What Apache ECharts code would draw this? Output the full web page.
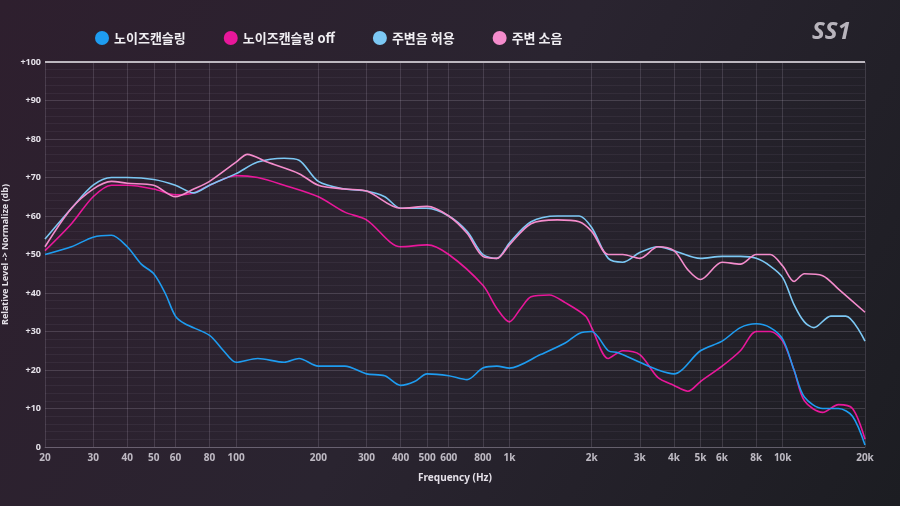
<!DOCTYPE html>
<html><head><meta charset="utf-8">
<script src="https://cdn.jsdelivr.net/npm/echarts@6/dist/echarts.min.js"></script>
<style>html,body{margin:0;padding:0;background:#1e1d24}#c{width:900px;height:506px}</style>
</head><body><div id="c"></div>
<script>
const names = ['노이즈캔슬링','노이즈캔슬링 off','주변음 허용','주변 소음'];
const colors = ['#1e9cf0','#e8179a','#7cc8f4','#f48ccc'];
const nc = [[20,50],[25,52],[30,54.5],[35,55],[40,52],[45,47.5],[50,45],[55,40],[60,34],[65,32],[80,29],[90,25],[100,22],[120,23],[150,22],[170,23],[200,21],[250,21],[300,19],[350,18.5],[400,16],[450,17],[500,19],[600,18.5],[700,17.5],[800,20.5],[900,21],[1000,20.5],[1300,24],[1600,27],[1800,29.5],[2000,30],[2300,25],[2500,24.5],[3000,22],[3500,20],[4000,19],[5000,25],[6000,27.5],[7000,31],[8000,32],[9000,31],[10000,28],[11000,20],[12000,13],[14000,10],[16000,10],[18000,8],[20000,0.5]];
const ncOff = [[20,51],[25,58],[30,65],[35,68],[40,68],[50,67],[60,65.5],[70,66],[80,68],[100,70.5],[120,70],[150,68],[200,65],[250,61],[300,59],[400,52],[500,52.5],[600,50],[800,42],[900,36],[1000,32.5],[1100,36],[1200,39],[1400,39.5],[1600,37.5],[1900,34],[2000,31],[2300,23],[2600,25],[3000,24],[3500,18],[4000,16],[4500,14.5],[5000,17],[6000,21],[7000,25],[8000,30],[9000,30],[10000,27.5],[11000,20],[12000,12],[14000,9],[16000,11],[18000,10],[20000,2]];
const ambient = [[20,54],[25,62],[30,68],[35,70],[40,70],[50,69.5],[60,68],[70,66],[80,68],[100,71],[120,74],[150,75],[170,74.5],[200,69],[250,67],[300,66.5],[350,65],[400,62],[500,62],[600,60],[700,56],[800,50],[900,49],[1000,53],[1200,58.5],[1500,60],[1800,60],[2000,57],[2300,49],[2600,48],[3000,50.5],[3500,52],[4000,51],[5000,49],[6000,49.5],[7000,49.5],[8000,49],[9000,47],[10000,44],[11000,37],[12000,32.5],[13000,31],[15000,34],[17000,34],[20000,27.5]];
const noise = [[20,52],[25,62],[30,67],[35,69],[40,68.5],[50,68],[60,65],[70,67],[80,69],[100,74],[110,76],[130,74],[170,71],[200,68],[250,67],[300,66.5],[400,62],[500,62.5],[600,60],[700,55.5],[800,49.5],[900,49],[1000,52.5],[1200,58],[1500,59],[1800,58.5],[2000,56],[2300,50],[2600,50],[3000,49],[3500,52],[4000,51],[4500,46],[5000,43.5],[6000,48],[7000,47.5],[8000,50],[9000,50],[10000,47],[11000,43],[12000,45],[14000,44.5],[16000,41],[20000,35]];
const xTicks = [20,30,40,50,60,80,100,200,300,400,500,600,800,1000,2000,3000,4000,5000,6000,8000,10000,20000];
const xTickLabels = ['20','30','40','50','60','80','100','200','300','400','500','600','800','1k','2k','3k','4k','5k','6k','8k','10k','20k'];
const all=[nc,ncOff,ambient,noise];
const chart = echarts.init(document.getElementById('c'));
const series = all.map((d,i)=>({name:names[i],type:'line',data:d,smooth:0.3,showSymbol:false,symbol:'circle',
  lineStyle:{width:1.6,color:colors[i]},itemStyle:{color:colors[i]},z:i===0?5:3}));
series.push({type:'scatter',data:xTicks.map(v=>[v,0]),symbolSize:0,silent:true,
  label:{show:true,position:'bottom',distance:6,color:'#e4e0e8',fontSize:10,fontFamily:'Noto Sans',fontWeight:'bold',
   formatter:p=>xTickLabels[p.dataIndex]},
  markLine:{silent:true,symbol:'none',label:{show:false},lineStyle:{color:'rgba(200,190,210,0.18)',width:1,type:'solid'},
   data:xTicks.map(v=>({xAxis:v})).concat([{yAxis:100,lineStyle:{color:'#bdb8c0',width:2,type:'solid'}}])}});
chart.setOption({
  backgroundColor:new echarts.graphic.LinearGradient(0,0,1,1,[{offset:0,color:'#2e1f2e'},{offset:0.5,color:'#2a2430'},{offset:1,color:'#1c1d22'}]),
  legend:{data:names.map((n,i)=>({name:n,itemStyle:{color:colors[i]}})),left:90,top:26,icon:'circle',itemWidth:14,itemHeight:14,itemGap:38,
    textStyle:{color:'#f0eef2',fontSize:13,fontWeight:'bold',fontFamily:'Noto Sans CJK KR'}},
  graphic:[{type:'text',left:812,top:20,style:{text:'SS1',fill:'#b8b4bc',font:'italic bold 24px Noto Sans'}}],
  grid:{left:45,right:35,top:62,bottom:59,containLabel:false,outerBoundsMode:'none'},
  xAxis:{type:'log',logBase:10,min:20,max:20000,axisLabel:{show:false},axisTick:{show:false},splitLine:{show:false},
    axisLine:{show:true,lineStyle:{color:'rgba(200,190,210,0.25)'}},
    name:'Frequency (Hz)',nameLocation:'middle',nameGap:26,nameTextStyle:{color:'#e4e0e8',fontSize:10,fontWeight:'bold',fontFamily:'Noto Sans'}},
  yAxis:{type:'value',min:0,max:100,interval:10,axisLine:{show:false},axisTick:{show:false},
    axisLabel:{color:'#e4e0e8',fontSize:9,fontWeight:'bold',fontFamily:'Noto Sans',margin:4,formatter:v=>v===0?'0':'+'+v},
    splitLine:{lineStyle:{color:'rgba(200,190,210,0.2)'}},
    minorTick:{show:false},minorSplitLine:{show:true,lineStyle:{color:'rgba(200,190,210,0.07)'}},
    name:'Relative Level -> Normalize (db)',nameLocation:'middle',nameGap:33,nameRotate:90,
    nameTextStyle:{color:'#e4e0e8',fontSize:9,fontWeight:'bold',fontFamily:'Noto Sans'}},
  series
});
</script></body></html>
